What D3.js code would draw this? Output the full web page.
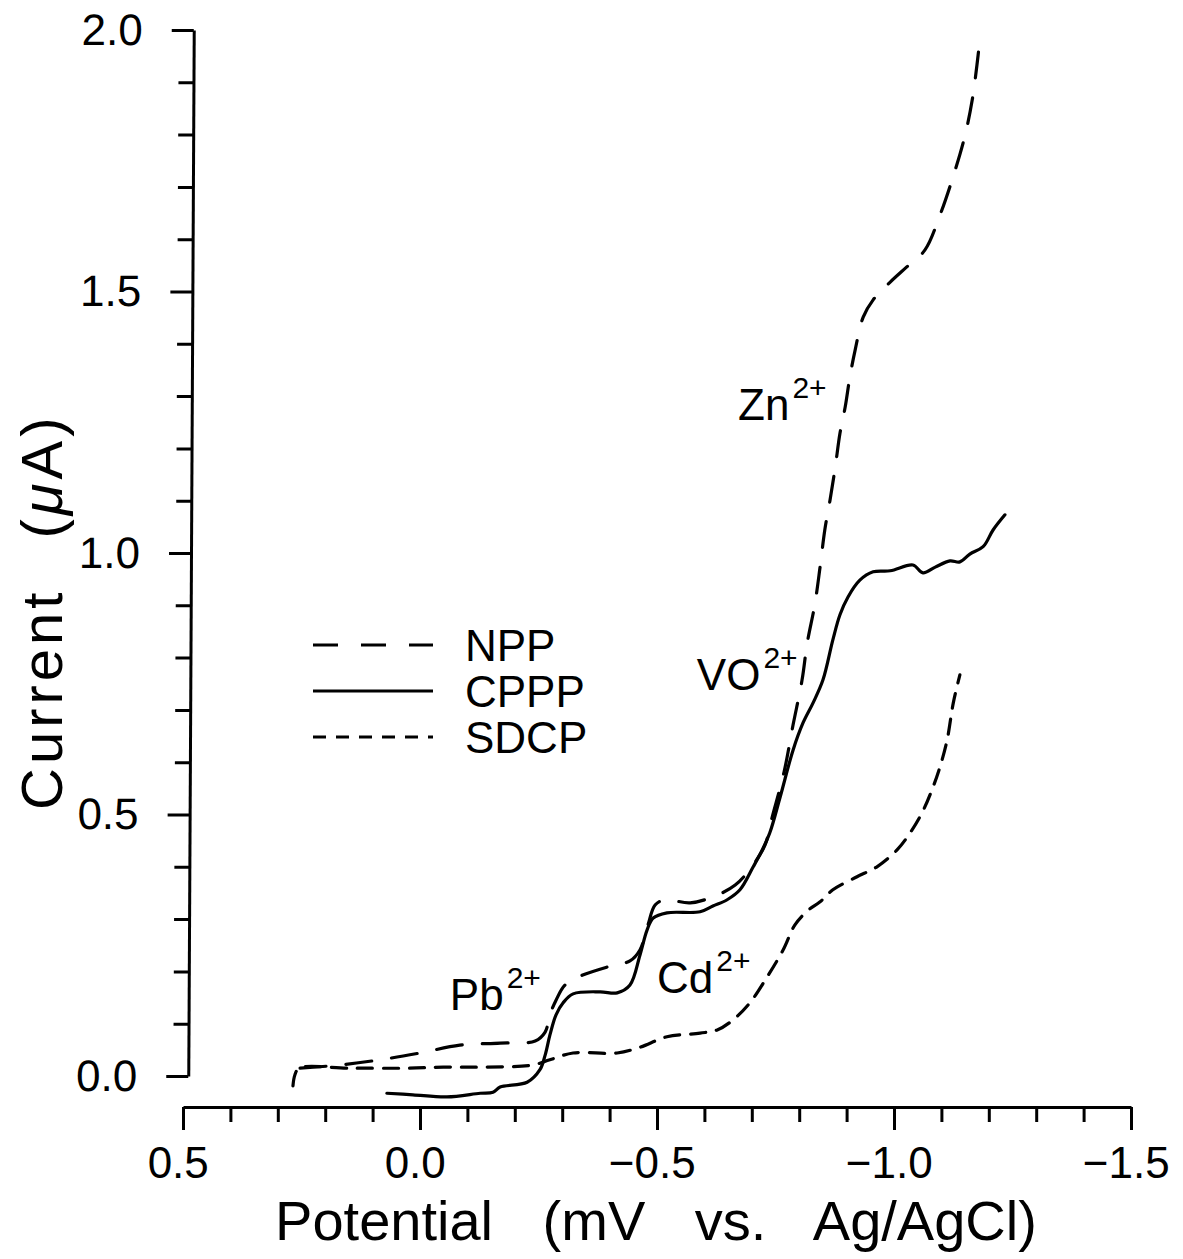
<!DOCTYPE html>
<html>
<head>
<meta charset="utf-8">
<script src="https://cdn.jsdelivr.net/npm/d3@7"></script>
<style>
  html, body { margin: 0; padding: 0; background: #fff; }
  svg { display: block; }
</style>
</head>
<body>
<div id="chart"></div>
<script>
const WIDTH = 1183;
const HEIGHT = 1259;
const FONT = "'Liberation Sans', Arial, sans-serif";

// Potential (V vs. Ag/AgCl) and current (uA)
const nppPotential = [0.253, 0.169, 0.084, 0.000, -0.084, -0.169, -0.243, -0.264, -0.274, -0.287, -0.306, -0.338, -0.401, -0.443, -0.464, -0.481, -0.496, -0.517, -0.570, -0.622, -0.665, -0.700, -0.728, -0.743, -0.768, -0.787, -0.806, -0.817, -0.833, -0.844, -0.854, -0.865, -0.876, -0.886, -0.897, -0.907, -0.918, -0.935, -0.956, -0.992, -1.027, -1.065, -1.097, -1.129, -1.150, -1.165, -1.175, -1.181];
const nppCurrent = [0.015, 0.021, 0.031, 0.044, 0.059, 0.063, 0.067, 0.084, 0.117, 0.145, 0.174, 0.191, 0.210, 0.220, 0.241, 0.289, 0.327, 0.337, 0.331, 0.344, 0.365, 0.400, 0.442, 0.495, 0.581, 0.671, 0.757, 0.828, 0.902, 0.973, 1.044, 1.101, 1.164, 1.229, 1.279, 1.337, 1.388, 1.451, 1.484, 1.518, 1.547, 1.579, 1.646, 1.732, 1.799, 1.866, 1.933, 1.981];

const cpppPotential = [0.070, 0.015, -0.057, -0.127, -0.154, -0.169, -0.226, -0.253, -0.264, -0.274, -0.287, -0.302, -0.323, -0.380, -0.416, -0.443, -0.464, -0.479, -0.492, -0.521, -0.591, -0.618, -0.648, -0.675, -0.703, -0.722, -0.738, -0.760, -0.787, -0.808, -0.829, -0.850, -0.871, -0.886, -0.903, -0.928, -0.956, -0.992, -1.040, -1.061, -1.087, -1.118, -1.139, -1.160, -1.188, -1.209, -1.234];
const cpppCurrent = [-0.033, -0.036, -0.040, -0.033, -0.031, -0.021, -0.012, 0.012, 0.040, 0.078, 0.117, 0.140, 0.157, 0.161, 0.159, 0.174, 0.231, 0.279, 0.302, 0.312, 0.314, 0.325, 0.337, 0.356, 0.400, 0.432, 0.465, 0.534, 0.623, 0.675, 0.713, 0.757, 0.834, 0.882, 0.916, 0.948, 0.964, 0.966, 0.977, 0.962, 0.973, 0.985, 0.983, 0.998, 1.012, 1.044, 1.073];

const sdcpPotential = [0.268, 0.264, 0.255, 0.148, 0.027, -0.049, -0.133, -0.238, -0.274, -0.323, -0.416, -0.464, -0.521, -0.591, -0.627, -0.660, -0.696, -0.732, -0.766, -0.791, -0.819, -0.844, -0.871, -0.922, -0.964, -1.006, -1.034, -1.059, -1.080, -1.097, -1.112, -1.125, -1.139];
const sdcpCurrent = [-0.019, 0.002, 0.015, 0.015, 0.015, 0.017, 0.017, 0.021, 0.031, 0.044, 0.044, 0.055, 0.075, 0.082, 0.088, 0.107, 0.140, 0.189, 0.241, 0.289, 0.317, 0.333, 0.356, 0.381, 0.400, 0.432, 0.465, 0.503, 0.547, 0.591, 0.642, 0.713, 0.767];

const seriesNames = ['NPP', 'CPPP', 'SDCP'];
const seriesDash = {NPP: '26,20', CPPP: null, SDCP: '15,11'};

// Ion labels: [base, superscript, potential, current]
const ionLabels = [
  ['Pb', '2+', -0.063, 0.126],
  ['Cd', '2+', -0.500, 0.159],
  ['VO', '2+', -0.584, 0.738],
  ['Zn', '2+', -0.671, 1.254],
];

const xTicks = d3.range(-15, 6).map(d => d / 10);
const yTicks = d3.range(0, 21).map(d => d / 10);

function translate(x, y) {
  return `translate(${x}, ${y})`;
}

function isMajor(d) {
  return Math.abs(Math.round(d * 10) % 5) === 0;
}

function zipSeries(pot, cur) {
  return pot.map((p, i) => ({p: p, c: cur[i]}));
}

const seriesData = {
  NPP: zipSeries(nppPotential, nppCurrent),
  CPPP: zipSeries(cpppPotential, cpppCurrent),
  SDCP: zipSeries(sdcpPotential, sdcpCurrent),
};

const svg = d3.select('#chart').append('svg')
  .attr('width', WIDTH)
  .attr('height', HEIGHT)
  .attr('viewBox', `0 0 ${WIDTH} ${HEIGHT}`)
  .style('font-family', FONT);

const x = d3.scaleLinear().domain([0.5, -1.5]).range([183, 1131]);
const y = d3.scaleLinear().domain([0, 2]).range([1076, 30]);

const fmt = d3.format('.1f');

// x axis (sits below the y-axis origin)
const xAxis = d3.axisBottom(x)
  .tickValues(xTicks)
  .tickSize(22)
  .tickSizeOuter(0)
  .tickPadding(18)
  .tickFormat(d => isMajor(d) ? fmt(d) : '');

const gx = svg.append('g')
  .attr('transform', translate(0, 1107))
  .call(xAxis);

gx.attr('font-family', FONT).attr('font-size', 44);
gx.select('.domain').attr('stroke-width', 3).attr('stroke', '#000');
gx.selectAll('.tick line')
  .attr('stroke-width', 3)
  .attr('y2', d => isMajor(d) ? 23 : 15);
gx.selectAll('.tick text').attr('fill', '#000').attr('dx', '-0.12em');

// y axis, a touch out of plumb like the scanned original
const yAxis = d3.axisLeft(y)
  .tickValues(yTicks)
  .tickSize(22)
  .tickSizeOuter(0)
  .tickPadding(29)
  .tickFormat(d => isMajor(d) ? fmt(d) : '');

const gy = svg.append('g')
  .attr('transform', `translate(0, 553) skewX(-0.3) translate(191, -553)`)
  .call(yAxis);

gy.attr('font-family', FONT).attr('font-size', 44);
gy.select('.domain').attr('stroke-width', 3).attr('stroke', '#000');
gy.selectAll('.tick line')
  .attr('stroke-width', 3)
  .attr('x2', d => isMajor(d) ? -22 : -15);
gy.selectAll('.tick text').attr('fill', '#000');

// axis titles
svg.append('text')
  .attr('x', 656)
  .attr('y', 1240)
  .attr('text-anchor', 'middle')
  .attr('font-size', 56)
  .style('word-spacing', '34px')
  .text('Potential (mV vs. Ag/AgCl)');

const yTitle = svg.append('text')
  .attr('transform', `${translate(62, 810)} rotate(-90)`)
  .attr('text-anchor', 'start')
  .attr('font-size', 58)
  .style('letter-spacing', '4px');
yTitle.append('tspan').text('Current');
yTitle.append('tspan').attr('dx', 50).text('(');
yTitle.append('tspan').attr('font-style', 'italic').text('μ');
yTitle.append('tspan').text('A)');

// traces
const line = d3.line()
  .x(d => x(d.p))
  .y(d => y(d.c))
  .curve(d3.curveCatmullRom.alpha(0.5));

for (const name of seriesNames) {
  svg.append('path')
    .datum(seriesData[name])
    .attr('fill', 'none')
    .attr('stroke', '#000')
    .attr('stroke-width', 3.2)
    .attr('stroke-linecap', 'round')
    .attr('stroke-linejoin', 'round')
    .attr('stroke-dasharray', seriesDash[name])
    .attr('d', line);
}

// ion labels
for (const [base, sup, p, c] of ionLabels) {
  const t = svg.append('text')
    .attr('x', x(p))
    .attr('y', y(c))
    .attr('font-size', 44);
  t.append('tspan').text(base);
  t.append('tspan')
    .attr('font-size', 30)
    .attr('dx', 3)
    .attr('dy', -22)
    .text(sup);
}

// legend
const legend = svg.append('g').attr('transform', translate(313, 645));

seriesNames.forEach((name, i) => {
  const row = legend.append('g').attr('transform', translate(0, i * 46));
  row.append('line')
    .attr('x1', 0)
    .attr('x2', 120)
    .attr('stroke', '#000')
    .attr('stroke-width', 3.2)
    .attr('stroke-dasharray', name === 'NPP' ? '25,23' : name === 'SDCP' ? '13,10' : null);
  row.append('text')
    .attr('x', 152)
    .attr('y', 16)
    .attr('font-size', 44)
    .text(name);
});
</script>
</body>
</html>
